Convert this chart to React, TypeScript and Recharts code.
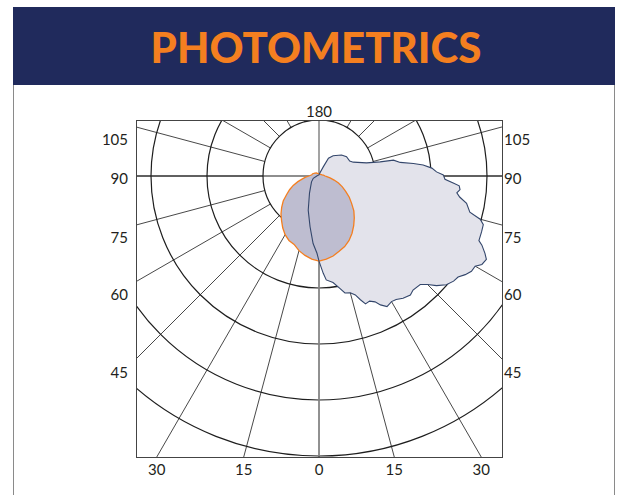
import { RadarChart, Radar, PolarGrid, PolarAngleAxis, PolarRadiusAxis } from 'recharts'

// spokes every 15 degrees, rings every 100 cd
const SPOKE_TICKS = [0, 15, 30, 45, 60, 75, 90, 105, 120, 135, 150, 165, 180, 195, 210, 225, 240, 255, 270, 285, 300, 315, 330, 345]
const RING_TICKS = [100, 200, 300, 400, 500]

// C0 / C180 plane (navy): gamma angle and intensity
const NAVY_GAMMA = [
  0, 2.5, 4, 7.5, 10.5, 12.5, 15, 17, 18.5, 20, 22, 24, 25.5, 27.5, 30, 32, 34.5, 37.5, 39.5, 43, 45, 47, 49.5, 52,
  54, 56, 58, 60, 61.5, 63.5, 65, 67, 68, 71, 73.5, 75, 76.5, 79.5, 81.5, 83, 84.5, 86, 87, 88.5, 90.5, 92, 94, 96,
  97.5, 99.5, 102, 103, 105.5, 112, 116, 125, 133, 145, 152, 155, 165, 180, 220, 270, 292, 308, 331, 342.5, 350,
  355, 358.5,
]
const NAVY_CD = [
  152, 174, 186, 192, 204, 214, 216, 222, 233, 243, 241, 246, 255, 263, 259, 260, 265, 268, 264, 265, 274, 287, 299,
  305, 307, 315, 321, 322, 331, 334, 327, 316, 308, 307, 306, 298, 277, 268, 254, 248, 253, 251, 240, 225, 222, 210,
  202, 187, 170, 147, 136, 112, 88, 66, 61, 60, 55, 44, 36, 18, 5, 2, 2, 4, 11, 17, 35, 64, 92, 121, 138,
]

// C90 / C270 plane (orange)
const ORANGE_GAMMA = [
  0, 5, 10, 15, 20, 25, 30, 35, 40, 45, 50, 55, 60, 65, 70, 75, 80, 85, 90, 100, 110, 120, 140, 160, 180, 200, 220,
  235, 250, 260, 270, 275, 280, 285, 290, 295, 300, 305, 310, 315, 320, 325, 330, 335, 340, 345, 350, 355,
]
const ORANGE_CD = [
  152, 149, 145, 139, 134, 127, 118, 108, 98, 88, 76, 66, 55, 46, 37, 28, 20, 14, 11, 8, 6, 5, 4, 4, 4, 4, 7, 9, 12,
  13, 18, 24, 30, 39, 49, 58, 67, 78, 87, 96, 104, 113, 121, 127, 130, 138, 144, 149,
]

const SIDE_LABELS = [105, 90, 75, 60, 45]
const BOTTOM_LABELS = [-30, -15, 0, 15, 30]
const TOP_LABEL = 180

const navyData = NAVY_GAMMA.map((g, i) => ({ gamma: g, cd: NAVY_CD[i] }))
const orangeData = ORANGE_GAMMA.map((g, i) => ({ gamma: g, cd: ORANGE_CD[i] }))

// frame geometry (page px)
const FRAME_L = 136
const FRAME_T = 120
const FRAME_W = 367
const FRAME_H = 338
const IN_W = FRAME_W - 2
const IN_H = FRAME_H - 2
const CX = 182
const CY = 55
const PAGE_CX = FRAME_L + 1 + CX
const PAGE_CY = FRAME_T + 1 + CY
const R_MIN = 56
const R_MAX = 280
const RAD = Math.PI / 180

const labelStyle: React.CSSProperties = {
  position: 'absolute',
  fontSize: 15,
  color: '#231f20',
  lineHeight: '16px',
  whiteSpace: 'nowrap',
}

function Layer({
  data,
  angleTicks,
  inner = 0,
  outer = R_MAX,
  radiusDomain = [0, 500],
  children,
}: {
  data: any[]
  angleTicks: number[]
  inner?: number
  outer?: number
  radiusDomain?: number[]
  children?: React.ReactNode
}) {
  return (
    <div style={{ position: 'absolute', left: 0, top: 0 }}>
      <RadarChart
        width={IN_W}
        height={IN_H}
        data={data}
        cx={CX}
        cy={CY}
        innerRadius={inner}
        outerRadius={outer}
        startAngle={-90}
        endAngle={270}
        margin={{ top: 0, right: 0, bottom: 0, left: 0 }}
      >
        <PolarAngleAxis
          type="number"
          dataKey="gamma"
          domain={[0, 360]}
          allowDataOverflow
          ticks={angleTicks}
          tick={false}
          tickLine={false}
          axisLine={false}
        />
        <PolarRadiusAxis
          type="number"
          dataKey="cd"
          domain={radiusDomain}
          allowDataOverflow
          ticks={RING_TICKS}
          tickCount={5}
          tick={false}
          axisLine={false}
        />
        {children}
      </RadarChart>
    </div>
  )
}

export default function App() {
  const sideY = (a: number) => PAGE_CY + (FRAME_W / 2) * Math.tan((90 - a) * RAD) + (a === 90 ? 1.5 : 12)
  const bottomX = (a: number) => PAGE_CX + (FRAME_T + FRAME_H - 1 - PAGE_CY) * Math.tan(a * RAD)

  return (
    <div
      style={{
        position: 'absolute',
        left: 0,
        top: 0,
        width: 621,
        height: 495,
        background: '#fff',
        overflow: 'hidden',
        fontFamily: 'Lato, "Open Sans", sans-serif',
      }}
    >
      {/* panel */}
      <div
        style={{
          position: 'absolute',
          left: 13,
          top: 7,
          width: 602,
          height: 520,
          borderLeft: '1px solid #8a8a8a',
          borderRight: '1px solid #8a8a8a',
          boxSizing: 'border-box',
        }}
      />
      <div
        style={{
          position: 'absolute',
          left: 13,
          top: 7,
          width: 602,
          height: 78,
          background: '#202a5c',
          display: 'flex',
          alignItems: 'center',
          justifyContent: 'center',
        }}
      >
        <span
          style={{
            color: '#f47f20',
            fontFamily: 'Lato, "Open Sans", sans-serif',
            fontWeight: 900,
            fontSize: 42,
            lineHeight: '42px',
            marginLeft: 4,
            marginTop: 2,
          }}
        >
          PHOTOMETRICS
        </span>
      </div>

      {/* polar frame */}
      <div
        style={{
          position: 'absolute',
          left: FRAME_L,
          top: FRAME_T,
          width: FRAME_W,
          height: FRAME_H,
          border: '1px solid #444',
          boxSizing: 'border-box',
          overflow: 'hidden',
        }}
      >
        {/* spokes, running out to the frame corners */}
        <Layer data={orangeData} angleTicks={SPOKE_TICKS} inner={R_MIN} outer={350} radiusDomain={[100, 625]}>
          <PolarGrid gridType="circle" polarRadius={[]} stroke="#333" strokeWidth={0.9} />
        </Layer>
        {/* rings at 100..500 */}
        <Layer data={orangeData} angleTicks={[]} inner={R_MIN} outer={R_MAX} radiusDomain={[100, 500]}>
          <PolarGrid gridType="circle" radialLines={false} stroke="#1e1e1e" strokeWidth={1.2} />
        </Layer>
        {/* horizontal axis */}
        <Layer data={orangeData} angleTicks={[90, 270]}>
          <PolarGrid gridType="circle" polarRadius={[]} stroke="#1e1e1e" strokeWidth={1.1} />
        </Layer>
        {/* vertical axis + navy fill */}
        <Layer data={navyData} angleTicks={[0, 180]}>
          <PolarGrid gridType="circle" polarRadius={[]} stroke="#8c8c8c" strokeWidth={1.6} />
          <Radar dataKey="cd" stroke="none" fill="#e3e3eb" fillOpacity={1} dot={false} isAnimationActive={false} />
        </Layer>
        {/* orange plane */}
        <Layer data={orangeData} angleTicks={[]}>
          <Radar
            dataKey="cd"
            stroke="#f47f20"
            strokeWidth={1.3}
            fill="#bebdd0"
            fillOpacity={1}
            dot={false}
            isAnimationActive={false}
          />
        </Layer>
        {/* navy outline */}
        <Layer data={navyData} angleTicks={[]}>
          <Radar
            dataKey="cd"
            stroke="#33466b"
            strokeWidth={1.1}
            fill="none"
            fillOpacity={0}
            dot={false}
            isAnimationActive={false}
          />
        </Layer>
      </div>

      {/* labels */}
      <div style={{ ...labelStyle, left: PAGE_CX, top: 111, transform: 'translate(-50%, -50%)' }}>{TOP_LABEL}</div>
      {SIDE_LABELS.map((a) => (
        <div key={'l' + a} style={{ ...labelStyle, right: 621 - 128, top: sideY(a), transform: 'translateY(-50%)' }}>
          {a}
        </div>
      ))}
      {SIDE_LABELS.map((a) => (
        <div key={'r' + a} style={{ ...labelStyle, left: 504, top: sideY(a), transform: 'translateY(-50%)' }}>
          {a}
        </div>
      ))}
      {BOTTOM_LABELS.map((a, i) => (
        <div
          key={'b' + i}
          style={{ ...labelStyle, left: bottomX(a), top: 469, transform: 'translate(-50%, -50%)' }}
        >
          {Math.abs(a)}
        </div>
      ))}
    </div>
  )
}
